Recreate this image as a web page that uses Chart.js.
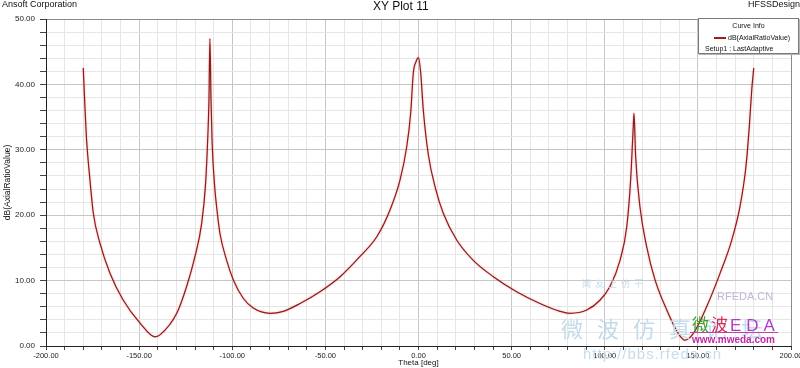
<!DOCTYPE html>
<html><head><meta charset="utf-8">
<script src="https://cdn.jsdelivr.net/npm/chart.js@4.4.1/dist/chart.umd.min.js"></script>
<style>
html,body{margin:0;padding:0;background:#fff;overflow:hidden}
#wrap{position:relative;width:800px;height:368px;overflow:hidden;font-family:"Liberation Sans",Arial,sans-serif}
#wrap canvas{position:absolute;left:0;top:0}
.t{position:absolute;white-space:nowrap;line-height:1;color:#111;z-index:2}
.wm{position:absolute;white-space:nowrap;line-height:1;z-index:1}
#legend{position:absolute;left:698px;top:18px;width:99px;height:34px;border:1px solid #7a7a7a;background:#fff;box-shadow:1px 1px 0 #b5b5b5;z-index:3;font-size:7px;color:#111}
#legend div{position:absolute;white-space:nowrap;line-height:1}
</style></head><body>
<div id="wrap">
<canvas id="c" width="800" height="368"></canvas>

<div class="wm" style="left:561px;top:316px;font-size:22px;letter-spacing:14px;color:#c4dbea;font-family:'Noto Sans CJK SC',sans-serif;">微波仿真论坛</div>
<div class="wm" style="left:583px;top:346px;font-size:15px;letter-spacing:1px;color:#c9dcea;">http://bbs.rfeda.cn</div>
<div class="wm" style="left:582px;top:279px;font-size:9px;letter-spacing:4px;color:#c9dcea;font-family:'Noto Sans CJK SC',sans-serif;">闻友上仿干</div>
<div class="wm" style="left:717px;top:291px;font-size:11px;color:#c3b6d6;">RFEDA.CN</div>
<div class="wm" style="left:692px;top:315px;font-size:17px;font-family:'Noto Sans CJK SC',sans-serif;letter-spacing:2px;"><span style="color:#3c9d2c">微</span><span style="color:#d8305a">波</span><span style="color:#b03cc8;font-family:'Liberation Sans',Arial,sans-serif;letter-spacing:5px">EDA</span></div>
<div class="wm" style="left:690px;top:332px;width:88px;height:1px;background:#c040b0;"></div>
<div class="wm" style="left:692px;top:335px;font-size:10px;font-weight:bold;color:#c02aa8;">www.mweda.com</div>

<div class="t" style="left:2px;top:0px;font-size:9px;">Ansoft Corporation</div>
<div class="t" style="left:373px;top:0px;font-size:12px;">XY Plot 11</div>
<div class="t" style="left:748px;top:0px;font-size:9px;">HFSSDesign1</div>
<div id="legend">
  <div style="left:0;width:99px;text-align:center;top:3px;">Curve Info</div>
  <div style="left:15px;top:18px;width:12px;height:1.5px;background:#a01c1c;"></div>
  <div style="left:29px;top:15px;">dB(AxialRatioValue)</div>
  <div style="left:6px;top:26px;">Setup1 : LastAdaptive</div>
</div>
</div>
<script>
// Theta [deg]
const theta = [
  -180, -179.1, -178.2, -176.4, -174.6, -171, -165.6, -158.5, -149.5, -141.5,
  -138.8, -129.8, -124.5, -120, -116.4, -114.3, -113.2, -112.5, -112, -111.4,
  -110.8, -109.3, -108.4, -106.6, -103, -99.4, -94.1, -88.7, -79.7, -72.6,
  -63.6, -52.9, -42.1, -31.4, -22.4, -15.3, -9.9, -6.3, -4.2, -2.8,
  -1.3, 0, 1.2, 2.6, 5.3, 9.3, 13.3, 20.5, 29.4, 40.2,
  52.7, 65.2, 76, 81.3, 90.3, 97.4, 102.8, 108.2, 111.8, 113.9,
  115.3, 115.7, 116.6, 118.9, 122.5, 127, 133.3, 139.5, 143.1, 147.5,
  154.7, 161.9, 168.2, 172.6, 175.8, 177.6, 178.9, 180
];
// dB(AxialRatioValue)
const axialRatio = [
  42.5, 36.6, 31.5, 25.4, 20.3, 15.7, 11.1, 7.0, 3.5, 1.4,
  1.7, 5.0, 9.1, 13.7, 18.8, 24.9, 31.5, 37.6, 47.0, 37.6,
  31.0, 23.9, 21.3, 17.2, 13.1, 10.1, 7.3, 5.8, 5.0, 5.3,
  6.5, 8.3, 10.6, 13.7, 16.7, 20.8, 25.4, 30.5, 35.6, 41.7,
  43.5, 44.1, 41.7, 36.0, 29.2, 23.9, 20.3, 16.2, 13.1, 10.6,
  8.3, 6.5, 5.3, 5.0, 5.5, 7.0, 9.1, 13.1, 18.2, 25.4,
  33.5, 35.6, 28.9, 21.3, 15.2, 10.1, 5.5, 1.9, 0.9, 1.9,
  6.0, 11.1, 16.2, 21.3, 27.4, 33.5, 39.1, 42.5
];
const xTickLabels = [-200, -150, -100, -50, 0, 50, 100, 150, 200];
const yTickLabels = [0, 10, 20, 30, 40, 50];

const points = theta.map((t, i) => ({x: t, y: axialRatio[i]}));

const glow = {
  id: 'glow',
  beforeDatasetDraw(chart) { const c = chart.ctx; c.save(); c.shadowColor = 'rgba(255,90,90,0.6)'; c.shadowBlur = 2; },
  afterDatasetDraw(chart) { chart.ctx.restore(); }
};

const font = {family: '"Liberation Sans", Arial, sans-serif'};

new Chart(document.getElementById('c'), {
  type: 'line',
  data: {
    datasets: [{
      label: 'dB(AxialRatioValue)',
      data: points,
      borderColor: '#8a1c1c',
      borderWidth: 1.2,
      pointRadius: 0,
      cubicInterpolationMode: 'monotone',
      fill: false
    }]
  },
  options: {
    responsive: false,
    devicePixelRatio: 1,
    animation: false,
    layout: {padding: {top: 19, right: 9, left: 0, bottom: 0}},
    plugins: {legend: {display: false}, tooltip: {enabled: false}},
    scales: {
      x: {
        type: 'linear', min: -200, max: 200,
        afterFit(s) { s.height = 22; s.paddingLeft = 0; s.paddingRight = 0; },
        ticks: {
          stepSize: 10, autoSkip: false, maxTicksLimit: 100, maxRotation: 0, minRotation: 0, padding: 1,
          color: '#222', font: {...font, size: 7.5},
          callback: v => xTickLabels.includes(v) ? v.toFixed(2) : ''
        },
        grid: {
          color: c => { const v = c.tick ? c.tick.value : 0; if (v === 200) return '#8a8a8a'; return v % 50 === 0 ? '#c6c6c6' : '#e6e6e6'; },
          tickColor: '#444', tickLength: 4, lineWidth: 1
        },
        border: {color: '#222', width: 1},
        title: {display: true, text: 'Theta [deg]', color: '#111', font: {...font, size: 8}, padding: {top: 0, bottom: 0}}
      },
      y: {
        type: 'linear', min: 0, max: 50,
        afterFit(s) { s.width = 46; s.paddingTop = 0; s.paddingBottom = 0; },
        ticks: {
          stepSize: 2, autoSkip: false, maxTicksLimit: 100, padding: 5,
          color: '#222', font: {...font, size: 8},
          callback: v => yTickLabels.includes(v) ? v.toFixed(2) : ''
        },
        grid: {
          color: c => { const v = c.tick ? c.tick.value : 0; if (v === 50) return '#8a8a8a'; return v % 10 === 0 ? '#c6c6c6' : '#e6e6e6'; },
          tickColor: '#444', tickLength: 6, lineWidth: 1
        },
        border: {color: '#222', width: 1},
        title: {display: true, text: 'dB(AxialRatioValue)', color: '#111', font: {...font, size: 8.5}, padding: {top: 3, bottom: 0}}
      }
    }
  },
  plugins: [glow]
});
</script>
</body></html>
